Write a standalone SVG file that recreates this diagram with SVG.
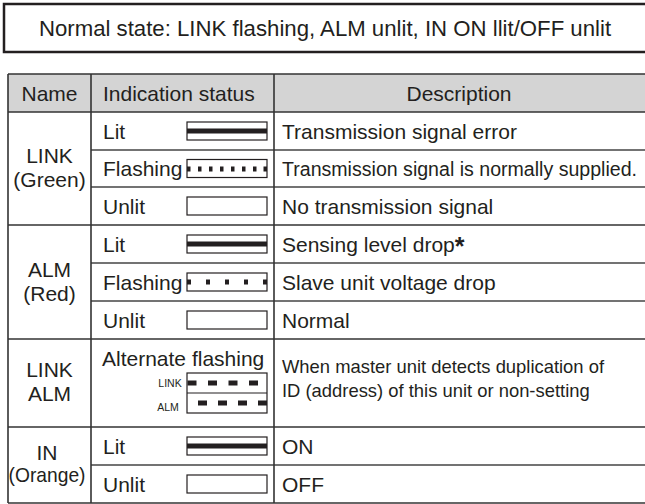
<svg xmlns="http://www.w3.org/2000/svg" width="645" height="504" viewBox="0 0 645 504">
<style>
text{font-family:"Liberation Sans",Arial,Helvetica,sans-serif;fill:#231f20;font-size:21px}
.c{text-anchor:middle}
.d{font-size:20px}
.s{font-size:18.4px}
.t{font-size:10.5px;text-anchor:middle}
.grp{stroke:#333;stroke-width:1.6;fill:none}
.sub{stroke:#444;stroke-width:1.3;fill:none}
.lamp{fill:#fff;stroke:#231f20;stroke-width:1.2}
.blk{fill:#231f20}
</style>
<defs>
<rect id="box" class="lamp" x="187" y="0" width="80" height="18"/>
<g id="lit"><use href="#box"/><rect class="blk" x="187" y="6.5" width="80" height="5"/></g>
</defs>
<g id="banner">
<rect x="4" y="4" width="660" height="48" fill="#fff" stroke="#231f20" stroke-width="2.5"/>
<text x="325" y="36" class="c" style="font-size:22.2px">Normal state: LINK flashing, ALM unlit, IN ON llit/OFF unlit</text>
</g>
<g id="table">
<rect x="8" y="74" width="660" height="38" fill="#d4d4d4"/>
<g id="lines">
<line class="grp" x1="8" y1="74" x2="660" y2="74"/>
<line class="grp" x1="8" y1="112" x2="660" y2="112"/>
<line class="grp" x1="8" y1="225" x2="660" y2="225"/>
<line class="grp" x1="8" y1="339" x2="660" y2="339"/>
<line class="grp" x1="8" y1="427" x2="660" y2="427"/>
<line class="grp" x1="8" y1="503" x2="660" y2="503"/>
<line class="sub" x1="91" y1="150" x2="660" y2="150"/>
<line class="sub" x1="91" y1="187" x2="660" y2="187"/>
<line class="sub" x1="91" y1="263" x2="660" y2="263"/>
<line class="sub" x1="91" y1="301" x2="660" y2="301"/>
<line class="sub" x1="91" y1="465" x2="660" y2="465"/>
<line class="grp" x1="8" y1="74" x2="8" y2="503"/>
<line class="grp" x1="91" y1="74" x2="91" y2="503"/>
<line class="grp" x1="274" y1="74" x2="274" y2="503"/>
</g>
<g id="header">
<text x="49.5" y="101" class="c">Name</text>
<text x="103" y="101">Indication status</text>
<text x="459" y="101" class="c">Description</text>
</g>
<g id="link">
<text x="49.5" y="163" class="c">LINK</text>
<text x="49.5" y="187" class="c">(Green)</text>
<text x="103" y="139">Lit</text>
<use href="#lit" y="122"/>
<text x="282" y="139">Transmission signal error</text>
<text x="103" y="176">Flashing</text>
<use href="#box" y="159.5"/>
<g class="blk">
<rect x="187" y="166.5" width="3.5" height="5"/><rect x="198" y="166.5" width="3.5" height="5"/><rect x="209" y="166.5" width="3.5" height="5"/><rect x="220" y="166.5" width="3.5" height="5"/><rect x="231" y="166.5" width="3.5" height="5"/><rect x="242" y="166.5" width="3.5" height="5"/><rect x="253" y="166.5" width="3.5" height="5"/><rect x="263.5" y="166.5" width="3.5" height="5"/>
</g>
<text x="282" y="176" class="d" textLength="355" lengthAdjust="spacingAndGlyphs">Transmission signal is normally supplied.</text>
<text x="103" y="214">Unlit</text>
<use href="#box" y="197"/>
<text x="282" y="214">No transmission signal</text>
</g>
<g id="alm">
<text x="49.5" y="277" class="c">ALM</text>
<text x="49.5" y="301" class="c">(Red)</text>
<text x="103" y="252">Lit</text>
<use href="#lit" y="235"/>
<text x="282" y="252">Sensing level drop<tspan font-weight="bold" font-size="25px" dy="3">*</tspan></text>
<text x="103" y="290">Flashing</text>
<use href="#box" y="273"/>
<g class="blk">
<rect x="187" y="279.5" width="4" height="5"/><rect x="206" y="279.5" width="4" height="5"/><rect x="225" y="279.5" width="4" height="5"/><rect x="244" y="279.5" width="4" height="5"/><rect x="263" y="279.5" width="4" height="5"/>
</g>
<text x="282" y="290">Slave unit voltage drop</text>
<text x="103" y="328">Unlit</text>
<use href="#box" y="311"/>
<text x="282" y="328">Normal</text>
</g>
<g id="linkalm">
<text x="49.5" y="377" class="c">LINK</text>
<text x="49.5" y="401" class="c">ALM</text>
<text x="102" y="366">Alternate flashing</text>
<text x="170" y="387" class="t">LINK</text>
<text x="168" y="411" class="t">ALM</text>
<rect class="lamp" x="187" y="373" width="80" height="40"/>
<line x1="187" y1="393" x2="267" y2="393" stroke="#231f20" stroke-width="1.2"/>
<g class="blk">
<rect x="187.5" y="380.5" width="9" height="5"/><rect x="208" y="380.5" width="9" height="5"/><rect x="228.5" y="380.5" width="9" height="5"/><rect x="249" y="380.5" width="9" height="5"/>
<rect x="198" y="400.5" width="9" height="5"/><rect x="218" y="400.5" width="9" height="5"/><rect x="238" y="400.5" width="9" height="5"/><rect x="258" y="400.5" width="9" height="5"/>
</g>
<text x="282" y="373" class="s">When master unit detects duplication of</text>
<text x="282" y="397" class="s">ID (address) of this unit or non-setting</text>
</g>
<g id="in">
<text x="47" y="460" class="c">IN</text>
<text x="8.5" y="482" textLength="77" lengthAdjust="spacingAndGlyphs">(Orange)</text>
<text x="103" y="454">Lit</text>
<use href="#lit" y="437"/>
<text x="282" y="454">ON</text>
<text x="103" y="492">Unlit</text>
<use href="#box" y="475"/>
<text x="282" y="492">OFF</text>
</g>
</g>
</svg>
